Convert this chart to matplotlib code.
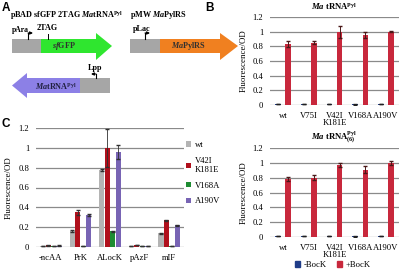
import matplotlib
matplotlib.use("Agg")
import matplotlib.pyplot as plt
from matplotlib.patches import Polygon, Rectangle
import numpy as np

plt.rcParams['font.family'] = ['Liberation Serif', 'DejaVu Serif']
plt.rcParams['mathtext.fontset'] = 'custom'
plt.rcParams['mathtext.rm'] = 'Liberation Serif'
plt.rcParams['mathtext.it'] = 'Liberation Serif:italic'
plt.rcParams['mathtext.bf'] = 'Liberation Serif:bold'
plt.rcParams['mathtext.bfit'] = 'Liberation Serif:italic:bold'

# ---------------- data ----------------
b_groups = ['wt', 'V75I', 'V42I\nK181E', 'V168A', 'A190V']
b1_minus = [0.010, 0.010, 0.015, 0.008, 0.012]
b1_plus = [0.83, 0.85, 1.00, 0.95, 1.00]
b1_plus_err = [0.04, 0.025, 0.08, 0.04, 0.01]
b2_minus = [0.012, 0.010, 0.012, 0.008, 0.012]
b2_plus = [0.78, 0.80, 0.97, 0.91, 1.00]
b2_plus_err = [0.03, 0.03, 0.03, 0.05, 0.025]
b_series = ['-BocK', '+BocK']

c_groups = ['-ncAA', 'PrK', 'ALocK', 'pAzF', 'mIF']
c_series = ['wt', 'V42I\nK181E', 'V168A', 'A190V']
c_wt = [0.012, 0.16, 0.78, 0.012, 0.14]
c_v42i = [0.018, 0.35, 1.00, 0.020, 0.27]
c_v168a = [0.010, 0.012, 0.16, 0.010, 0.012]
c_a190v = [0.015, 0.32, 0.96, 0.012, 0.22]
c_wt_err = [0.003, 0.01, 0.01, 0.003, 0.005]
c_v42i_err = [0.003, 0.025, 0.19, 0.003, 0.005]
c_v168a_err = [0.003, 0.003, 0.005, 0.003, 0.003]
c_a190v_err = [0.003, 0.01, 0.07, 0.003, 0.005]
yticks = [0, 0.2, 0.4, 0.6, 0.8, 1, 1.2]
ytick_labels = ['0', '0.2', '0.4', '0.6', '0.8', '1', '1.2']

W, H = 400, 270
fig = plt.figure(figsize=(4, 2.7), dpi=100)

# overlay axes in pixel coordinates for panel A and panel letters
ov = fig.add_axes([0, 0, 1, 1])
ov.set_xlim(0, W)
ov.set_ylim(H, 0)
ov.axis('off')

GRAY = '#a6a6a6'
GREEN = '#2fe62f'
PURPLE = '#8c80e6'
ORANGE = '#f08020'

def rect(x0, y0, x1, y1, c):
    ov.add_patch(Rectangle((x0, y0), x1 - x0, y1 - y0, facecolor=c, edgecolor='none'))

def arrow_right(x0, xb, xt, y0, y1, hy0, hy1, c):
    ym = (y0 + y1) / 2
    ov.add_patch(Polygon([(x0, y0), (xb, y0), (xb, hy0), (xt, ym), (xb, hy1), (xb, y1), (x0, y1)],
                         closed=True, facecolor=c, edgecolor='none'))

def arrow_left(x1, xb, xt, y0, y1, hy0, hy1, c):
    ym = (y0 + y1) / 2
    ov.add_patch(Polygon([(x1, y0), (xb, y0), (xb, hy0), (xt, ym), (xb, hy1), (xb, y1), (x1, y1)],
                         closed=True, facecolor=c, edgecolor='none'))

def promoter(x, ybase, ytop, dx):
    ov.plot([x, x], [ybase, ytop], color='black', lw=0.8)
    ov.annotate('', xy=(x + dx, ytop), xytext=(x, ytop),
                arrowprops=dict(arrowstyle='-|>', lw=0.8, color='black', mutation_scale=4,
                                shrinkA=0, shrinkB=0))

TS = 5.9
# panel A
ov.text(2, 2, 'A', fontsize=8.5, fontweight='bold', family='Liberation Sans', va='top', ha='left')
ov.text(205, 2, 'B', fontsize=8.5, fontweight='bold', family='Liberation Sans', va='top', ha='left')
ov.text(2, 118, 'C', fontsize=8.5, fontweight='bold', family='Liberation Sans', va='top', ha='left')

ov.text(10, 15, r'pBAD sfGFP 2TAG $\mathbfit{Ma}$tRNA$^{\mathbf{Pyl}}$', fontsize=TS,
        fontweight='bold', va='center', ha='left')
ov.text(130, 15, r'pMW $\mathbfit{Ma}$PylRS', fontsize=TS, fontweight='bold', va='center', ha='left')

rect(12, 39, 41, 53, GRAY)
arrow_right(41, 96, 112, 39, 53, 33, 60, GREEN)
ov.text(64, 46.5, r'$\mathbfit{sf}$GFP', fontsize=5.9, fontweight='bold', ha='center', va='center',
        color='#303030')
ov.text(12, 30, 'pAra', fontsize=5.5, fontweight='bold', ha='left', va='center')
promoter(28, 39, 33, 5)
ov.text(37, 28.5, '2TAG', fontsize=TS, fontweight='bold', ha='left', va='center')
ov.plot([48, 48], [34, 39], color='black', lw=0.7)

arrow_left(80, 27, 12, 78, 93, 73, 98, PURPLE)
rect(80, 78, 110, 93, GRAY)
ov.text(56, 86, r'$\mathbfit{Ma}$tRNA$^{\mathbf{Pyl}}$', fontsize=5.9, fontweight='bold',
        ha='center', va='center', color='#202040')
ov.text(88, 68, 'Lpp', fontsize=TS, fontweight='bold', ha='left', va='center')
promoter(96, 78, 74, -5)

rect(130, 39, 160, 53, GRAY)
arrow_right(160, 220, 238, 39, 53, 33, 60, ORANGE)
ov.text(188, 46.5, r'$\mathbfit{Ma}$PylRS', fontsize=5.9, fontweight='bold', ha='center', va='center',
        color='#303030')
ov.text(133, 29, 'pLac', fontsize=TS, fontweight='bold', ha='left', va='center')
promoter(145, 39, 33, 5)

def fax(x0, y0, x1, y1):
    return fig.add_axes([x0 / W, 1 - y1 / H, (x1 - x0) / W, (y1 - y0) / H])

def style(ax):
    ax.set_ylim(0, 1.2)
    ax.set_yticks(yticks)
    ax.set_yticklabels(ytick_labels)
    for s in ax.spines.values():
        s.set_visible(False)
    ax.grid(axis='y', color='#8a8a8a', lw=0.9)
    ax.set_axisbelow(True)
    ax.tick_params(length=0, labelsize=6.2, pad=5)
    ax.set_ylabel('Fluorescence/OD', fontsize=6.4, labelpad=3)

BLUE = '#1f3c88'
RED = '#c8283c'

def bpanel(ax, minus, plus, perr, title):
    style(ax)
    x = np.arange(len(b_groups))
    bw = 0.22
    ax.bar(x - 0.2, minus, bw, color=BLUE, yerr=[0.003] * len(minus), capsize=1.2,
           error_kw=dict(lw=0.6, ecolor='#202020'))
    ax.bar(x + 0.2, plus, bw, color=RED, yerr=perr, capsize=1.5,
           error_kw=dict(lw=0.7, ecolor='#4a1818'))
    ax.set_xticks(x)
    ax.set_xticklabels(b_groups, linespacing=0.9)
    ax.set_xlim(-0.5, len(b_groups) - 0.5)
    ax.set_title(title, fontsize=6.2, fontweight='bold', pad=5)

ax1 = fax(270, 17, 399, 105)
bpanel(ax1, b1_minus, b1_plus, b1_plus_err, r'$\mathbfit{Ma}$ tRNA$^{\mathbf{Pyl}}$')
ax2 = fax(270, 148, 399, 237)
bpanel(ax2, b2_minus, b2_plus, b2_plus_err,
       r'$\mathbfit{Ma}$ tRNA$^{\mathbf{Pyl}}_{\mathbf{(6)}}$')
hb = [Rectangle((0, 0), 1, 1, color=BLUE), Rectangle((0, 0), 1, 1, color=RED)]
fig.legend(hb, b_series, loc='center', bbox_to_anchor=(333 / W, 1 - 265 / H), ncol=2,
           frameon=False, fontsize=6.2, handlelength=0.6, handleheight=0.6, handletextpad=0.4,
           columnspacing=1.2, borderpad=0)

# panel C
axc = fax(36, 128, 184, 247)
style(axc)
axc.yaxis.labelpad = 4
xc = np.arange(len(c_groups))
ccols = ['#b4b4b4', '#b0101c', '#1e8c32', '#7864b4']
cvals = [c_wt, c_v42i, c_v168a, c_a190v]
cerrs = [c_wt_err, c_v42i_err, c_v168a_err, c_a190v_err]
bw = 0.17
for i, (v, e, col, lab) in enumerate(zip(cvals, cerrs, ccols, c_series)):
    axc.bar(xc + (i - 1.5) * 0.185, v, bw, color=col, label=lab, yerr=e, capsize=1.2,
            error_kw=dict(lw=0.6, ecolor='#303030'))
axc.set_xticks(xc)
axc.set_xticklabels(c_groups)
axc.set_xlim(-0.5, len(c_groups) - 0.5)
axc.legend(loc='center left', bbox_to_anchor=(1.0, 0.62), frameon=False, fontsize=6.2,
           handlelength=0.6, handleheight=0.6, handletextpad=0.5, labelspacing=0.9,
           borderaxespad=0.2, borderpad=0)

fig.savefig('out.png', dpi=100)
